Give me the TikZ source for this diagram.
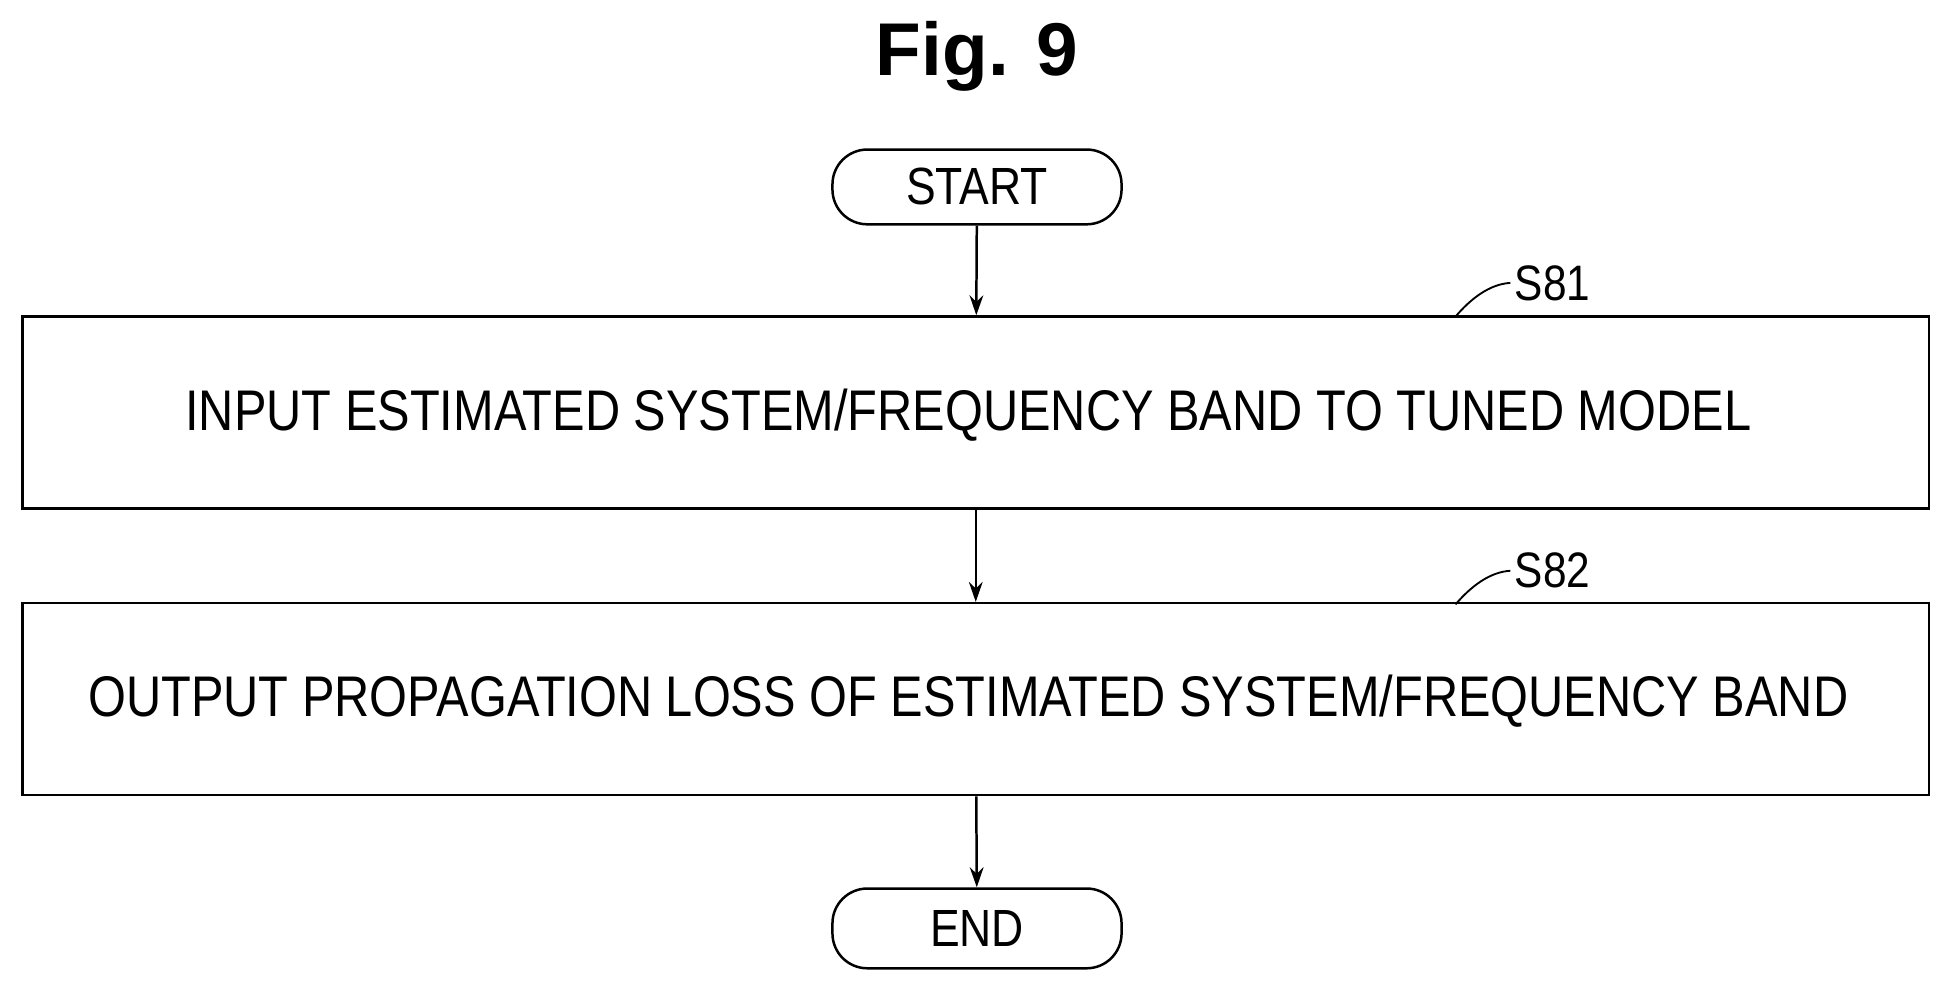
\documentclass[tikz,border=0pt]{standalone}
\usepackage{fontspec}
\setmainfont{Liberation Sans}
\newfontfamily\narrowf[FakeStretch=0.85]{Liberation Sans}
\usetikzlibrary{arrows.meta}
\begin{document}
\begin{tikzpicture}[x=1pt,y=-1pt,
  box/.style={draw,line width=2pt,minimum width=1530pt,minimum height=154pt,inner sep=0},
  term/.style={draw,line width=2pt,rounded corners=28pt,minimum width=232pt,minimum height=60pt,inner sep=0,font=\narrowf\fontsize{42}{46}\selectfont},
  txt/.style={font=\narrowf\fontsize{46}{50}\selectfont},
  arr/.style={line width=2pt,-{Stealth[length=16pt,width=11pt]}},
  lead/.style={line width=1.5pt}]
\useasboundingbox (0,0) rectangle (1568,790);
\node[font=\bfseries\fontsize{60}{66}\selectfont] (title) at (784,45) {Fig. 9};
\node[term] (start) at (784,150) {START};
\node[box] (b1) at (783,331) {};
\node[txt] (t1) at (777,333) {INPUT ESTIMATED SYSTEM/FREQUENCY BAND TO TUNED MODEL};
\node[box] (b2) at (783,561) {};
\node[txt] (t2) at (777,563) {OUTPUT PROPAGATION LOSS OF ESTIMATED SYSTEM/FREQUENCY BAND};
\node[term,minimum height=64pt] (end) at (784,745) {END};
\node[txt,font=\narrowf\fontsize{40}{44}\selectfont,anchor=west] (s81) at (1212,227) {S81};
\node[txt,font=\narrowf\fontsize{40}{44}\selectfont,anchor=west] (s82) at (1212,458) {S82};
\coordinate (c81) at (1168,254);
\coordinate (c82) at (1168,485);
\draw[lead] (c81) .. controls (1180,240) and (1195,228) .. (s81.west);
\draw[lead] (c82) .. controls (1180,471) and (1195,459) .. (s82.west);
\draw[arr] (start) -- (b1);
\draw[arr] (b1) -- (b2);
\draw[arr] (b2) -- (end);
\end{tikzpicture}
\end{document}
